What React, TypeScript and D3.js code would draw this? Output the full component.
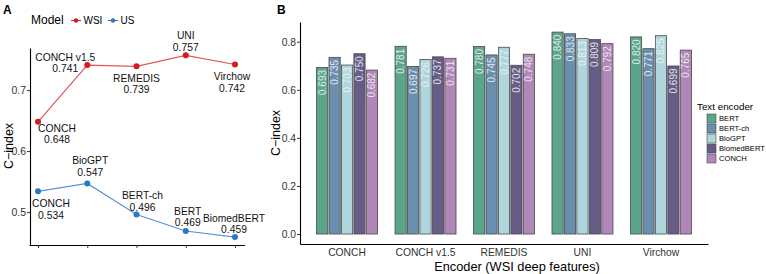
import { useEffect, useRef } from "react";
import * as d3 from "d3";

// panel A
const wsiModels = ["CONCH", "CONCH v1.5", "REMEDIS", "UNI", "Virchow"];
const wsiCindex = [0.648, 0.741, 0.739, 0.757, 0.742];
const usModels = ["CONCH", "BioGPT", "BERT-ch", "BERT", "BiomedBERT"];
const usCindex = [0.534, 0.547, 0.496, 0.469, 0.459];
const aTicks = [0.5, 0.6, 0.7];

// panel B
const encoders = ["CONCH", "CONCH v1.5", "REMEDIS", "UNI", "Virchow"];
const textEncoders = ["BERT", "BERT-ch", "BioGPT", "BiomedBERT", "CONCH"];
const bertVals = [0.693, 0.781, 0.78, 0.84, 0.82];
const bertChVals = [0.735, 0.697, 0.745, 0.833, 0.771];
const bioGptVals = [0.703, 0.726, 0.777, 0.813, 0.825];
const biomedBertVals = [0.75, 0.737, 0.702, 0.809, 0.699];
const conchVals = [0.682, 0.731, 0.748, 0.792, 0.765];
const bTicks = [0, 0.2, 0.4, 0.6, 0.8];

const textColors = ["#5ba58a", "#6a8fae", "#aed6dc", "#665c87", "#b087b8"];

// ggrepel-ish label nudges (dx, dy of first line)
const wsiNudge = [[19, 6.5], [-22, -8], [0, 12], [0, -20], [-3, 12]];
const usNudge = [[13, 12], [3, -23], [6, -19], [2, -20], [-1, -19]];

const FONT = "'Liberation Sans', Arial, Helvetica, sans-serif";

export default function App() {
  const svgRef = useRef<SVGSVGElement>(null);
  const width = 766;
  const height = 274;

  useEffect(() => {
    const svg = d3.select(svgRef.current);
    svg.selectAll("*").remove();
    svg.style("font-family", FONT);

    // ---------- A ----------
    const ax = d3.scalePoint().domain(["0", "1", "2", "3", "4"]).range([38, 235]);
    const ay = d3.scaleLinear().domain([0.446, 0.769]).range([245, 48]);

    const gAy = svg
      .append("g")
      .attr("transform", "translate(30,0)")
      .call(
        d3.axisLeft(ay).tickValues(aTicks).tickFormat(d3.format(".1f")).tickSize(3).tickPadding(1).tickSizeOuter(0)
      );
    const gAx = svg
      .append("g")
      .attr("transform", "translate(0,245)")
      .call(d3.axisBottom(ax).tickSize(3).tickSizeOuter(0).tickFormat(() => ""));
    gAx.select(".domain").attr("d", "M29.5,0.5H245");
    [gAy, gAx].forEach((g) => {
      g.select(".domain").attr("stroke", "#000").attr("stroke-width", 1.1);
      g.selectAll(".tick line").attr("stroke", "#333");
      g.selectAll(".tick text").attr("font-size", 10.5).attr("fill", "#333").attr("font-family", FONT);
    });

    const series = [
      { names: wsiModels, vals: wsiCindex, nudge: wsiNudge, line: "#e2565a", dot: "#d7191c" },
      { names: usModels, vals: usCindex, nudge: usNudge, line: "#5593d6", dot: "#2b77c6" },
    ];
    const line = d3
      .line<number>()
      .x((_, i) => ax(String(i)) as number)
      .y((d) => ay(d));
    series.forEach((s) => {
      svg
        .append("path")
        .attr("d", line(s.vals))
        .attr("fill", "none")
        .attr("stroke", s.line)
        .attr("stroke-width", 1.2);
      svg
        .append("g")
        .selectAll("circle")
        .data(s.vals)
        .join("circle")
        .attr("cx", (_, i) => ax(String(i)) as number)
        .attr("cy", (d) => ay(d))
        .attr("r", 3)
        .attr("fill", s.dot);
      const lab = svg
        .append("g")
        .selectAll("text")
        .data(s.vals)
        .join("text")
        .attr("text-anchor", "middle")
        .attr("font-size", 10.3)
        .attr("fill", "#111");
      lab
        .append("tspan")
        .attr("x", (_, i) => (ax(String(i)) as number) + s.nudge[i][0])
        .attr("y", (d, i) => ay(d) + s.nudge[i][1] + 3.7)
        .text((_, i) => s.names[i]);
      lab
        .append("tspan")
        .attr("x", (_, i) => (ax(String(i)) as number) + s.nudge[i][0])
        .attr("y", (d, i) => ay(d) + s.nudge[i][1] + 15.2)
        .text((d) => d3.format(".3f")(d));
    });

    svg.append("text").attr("x", 3).attr("y", 14).attr("font-size", 12).attr("font-weight", "bold").text("A");
    svg
      .append("text")
      .attr("transform", "rotate(-90)")
      .attr("x", -146)
      .attr("y", 13)
      .attr("text-anchor", "middle")
      .attr("font-size", 12.5)
      .text("C\u2212index");

    // legend A
    svg.append("text").attr("x", 31).attr("y", 24).attr("font-size", 12).text("Model");
    [
      { label: "WSI", x: 71, c: "#d7191c" },
      { label: "US", x: 108, c: "#2b77c6" },
    ].forEach((k) => {
      svg.append("line").attr("x1", k.x).attr("x2", k.x + 10).attr("y1", 20.5).attr("y2", 20.5).attr("stroke", k.c).attr("stroke-width", 1);
      svg.append("circle").attr("cx", k.x + 5).attr("cy", 20.5).attr("r", 2.2).attr("fill", k.c);
      svg.append("text").attr("x", k.x + 12.5).attr("y", 24).attr("font-size", 10).text(k.label);
    });

    // ---------- B ----------
    const bx = d3.scaleBand().domain(encoders).range([300, 708]).paddingInner(0.223).paddingOuter(0.211);
    const bInner = d3.scaleBand().domain(textEncoders).range([0, bx.bandwidth()]).paddingInner(0.1);
    const by = d3.scaleLinear().domain([-0.0415, 0.882]).range([244, 22]);
    const color = d3.scaleOrdinal<string>().domain(textEncoders).range(textColors);

    const gBy = svg
      .append("g")
      .attr("transform", "translate(300,0)")
      .call(d3.axisLeft(by).tickValues(bTicks).tickFormat(d3.format(".1f")).tickSize(3).tickPadding(1).tickSizeOuter(0));
    const gBx = svg
      .append("g")
      .attr("transform", "translate(0,244)")
      .call(d3.axisBottom(bx).tickSize(0).tickPadding(5).tickSizeOuter(0));
    [gBy, gBx].forEach((g) => {
      g.select(".domain").attr("stroke", "#000").attr("stroke-width", 1.1);
      g.selectAll(".tick line").attr("stroke", "#333");
      g.selectAll(".tick text").attr("font-size", 10.3).attr("fill", "#333").attr("font-family", FONT);
    });

    const allVals = [bertVals, bertChVals, bioGptVals, biomedBertVals, conchVals];
    const rows = encoders.flatMap((enc, gi) =>
      textEncoders.map((te, ti) => ({ enc, te, v: allVals[ti][gi] }))
    );
    const bars = svg.append("g").selectAll("g").data(rows).join("g");
    bars
      .append("rect")
      .attr("x", (d) => (bx(d.enc) as number) + (bInner(d.te) as number))
      .attr("y", (d) => by(d.v))
      .attr("width", bInner.bandwidth())
      .attr("height", (d) => by(0) - by(d.v))
      .attr("fill", (d) => color(d.te))
      .attr("stroke", "#4a4a4a")
      .attr("stroke-width", 0.8);
    bars
      .append("text")
      .attr("transform", (d) => {
        const cx = (bx(d.enc) as number) + (bInner(d.te) as number) + bInner.bandwidth() / 2;
        return `translate(${cx + 3.5},${by(d.v) + 2.5}) rotate(-90)`;
      })
      .attr("text-anchor", "end")
      .attr("font-size", 10)
      .attr("fill", "#f2f5f4")
      .attr("fill-opacity", 0.9)
      .text((d) => d3.format(".3f")(d.v));

    svg.append("text").attr("x", 277).attr("y", 14).attr("font-size", 12).attr("font-weight", "bold").text("B");
    svg
      .append("text")
      .attr("transform", "rotate(-90)")
      .attr("x", -133)
      .attr("y", 280)
      .attr("text-anchor", "middle")
      .attr("font-size", 12.5)
      .text("C\u2212index");
    svg
      .append("text")
      .attr("x", 517)
      .attr("y", 271)
      .attr("text-anchor", "middle")
      .attr("font-size", 12.8)
      .text("Encoder (WSI deep features)");

    // legend B
    svg.append("text").attr("x", 697).attr("y", 110).attr("font-size", 9.8).text("Text encoder");
    const leg = svg.append("g").selectAll("g").data(textEncoders).join("g");
    leg
      .append("rect")
      .attr("x", 707)
      .attr("y", (_, i) => 114 + i * 10)
      .attr("width", 9)
      .attr("height", 9)
      .attr("fill", (d) => color(d))
      .attr("stroke", "#4a4a4a")
      .attr("stroke-width", 0.6);
    leg
      .append("text")
      .attr("x", 719)
      .attr("y", (_, i) => 121.3 + i * 10)
      .attr("font-size", 7.6)
      .text((d) => d);
  }, []);

  return (
    <svg
      ref={svgRef}
      width={width}
      height={height}
      style={{ position: "absolute", left: 0, top: 0, background: "#fff" }}
    />
  );
}
